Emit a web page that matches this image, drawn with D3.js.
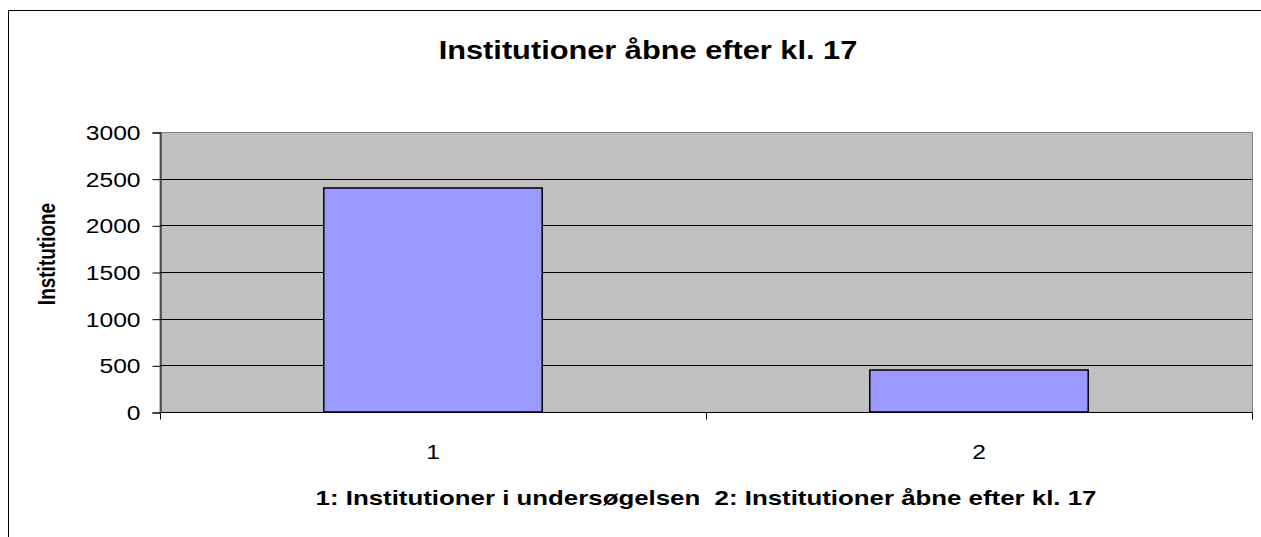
<!DOCTYPE html>
<html>
<head>
<meta charset="utf-8">
<style>
  body { margin: 0; background: #fff; }
  svg { display: block; }
  text { font-family: "Liberation Sans", Arial, sans-serif; fill: #000; }
</style>
<script src="https://d3js.org/d3.v7.min.js"></script>
</head>
<body>
<svg width="1261" height="537"></svg>
<script>
var categories = ["1", "2"];
var values = [2400, 450];
var yTicks = [0, 500, 1000, 1500, 2000, 2500, 3000];
var title = "Institutioner åbne efter kl. 17";
var yTitle = "Institutione";
var xTitle = "1: Institutioner i undersøgelsen  2: Institutioner åbne efter kl. 17";

// the original picture is a bit wider than tall, text glyphs look stretched
var stretchX = 1.23;

function stretch(sel) {
  sel.each(function() {
    var w = this.getComputedTextLength();
    d3.select(this).attr("textLength", w * stretchX).attr("lengthAdjust", "spacingAndGlyphs");
  });
}

var svg = d3.select("svg");

// chart frame (runs off right and bottom)
svg.append("rect")
  .attr("x", 8.5).attr("y", 10.5)
  .attr("width", 1300).attr("height", 600)
  .attr("fill", "#fff").attr("stroke", "#000");

var pl = 160, pt = 132, pr = 1252, pb = 412;

var x = d3.scaleBand().domain(categories).range([pl, pr]);
var y = d3.scaleLinear().domain([0, 3000]).range([pb, pt]);

// plot area
svg.append("rect")
  .attr("x", pl).attr("y", pt + 0.5)
  .attr("width", pr - pl + 0.5).attr("height", pb - pt)
  .attr("fill", "#c0c0c0").attr("stroke", "#808080");

// gridlines
svg.append("g").selectAll("line")
  .data(yTicks.filter(function(d) { return d > 0 && d < 3000; }))
  .enter().append("line")
  .attr("x1", pl).attr("x2", pr)
  .attr("y1", function(d) { return Math.round(y(d)) + 0.5; })
  .attr("y2", function(d) { return Math.round(y(d)) + 0.5; })
  .attr("stroke", "#000");

// bars
var bw = x.bandwidth() * 0.4;
svg.append("g").selectAll("rect")
  .data(values)
  .enter().append("rect")
  .attr("x", function(d, i) { return x(categories[i]) + (x.bandwidth() - bw) / 2; })
  .attr("y", function(d) { return y(d); })
  .attr("width", bw)
  .attr("height", function(d) { return pb - y(d); })
  .attr("fill", "#9999ff").attr("stroke", "#000").attr("stroke-width", 1.5);

// y axis
var yAxis = svg.append("g")
  .attr("transform", "translate(" + (pl + 0.5) + ",0.5)")
  .call(d3.axisLeft(y).tickValues(yTicks).tickSizeOuter(0).tickSize(8).tickPadding(12).tickFormat(d3.format("d")));
yAxis.selectAll("text").style("font-size", "20px").attr("dy", "0.35em").call(stretch);
yAxis.select(".domain").attr("stroke", "#000");

// x axis
var xAxis = svg.append("g")
  .attr("transform", "translate(0," + (pb + 0.5) + ")");
xAxis.append("line").attr("x1", pl).attr("x2", pr).attr("stroke", "#000");
xAxis.selectAll(".sep")
  .data([pl, pl + x.bandwidth(), pr])
  .enter().append("line")
  .attr("x1", function(d) { return Math.round(d) + 0.5; })
  .attr("x2", function(d) { return Math.round(d) + 0.5; })
  .attr("y1", 0).attr("y2", 7).attr("stroke", "#000");
xAxis.selectAll(".lbl")
  .data(categories)
  .enter().append("text")
  .attr("x", function(d) { return x(d) + x.bandwidth() / 2; })
  .attr("y", 46)
  .attr("text-anchor", "middle")
  .style("font-size", "20px")
  .text(function(d) { return d; })
  .call(stretch);

// titles
svg.append("text")
  .attr("x", 648).attr("y", 59)
  .attr("text-anchor", "middle")
  .style("font-size", "25px").style("font-weight", "bold")
  .text(title)
  .call(stretch);

svg.append("text")
  .attr("transform", "translate(55,254) scale(" + stretchX + ",1) rotate(-90)")
  .attr("text-anchor", "middle")
  .style("font-size", "19px").style("font-weight", "bold")
  .text(yTitle);

svg.append("text")
  .attr("x", 706).attr("y", 505)
  .attr("text-anchor", "middle")
  .style("white-space", "pre")
  .style("font-size", "21px").style("font-weight", "bold")
  .text(xTitle)
  .call(stretch);
</script>
</body>
</html>
